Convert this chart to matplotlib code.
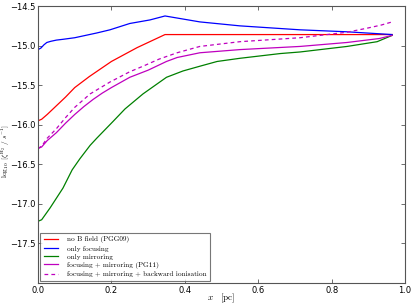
import matplotlib
matplotlib.use("Agg")
import matplotlib.pyplot as plt

plt.rcParams['mathtext.fontset'] = 'cm'

# --- data ---
x_red = [0.0, 0.01, 0.025, 0.05, 0.075, 0.1, 0.14, 0.2, 0.27, 0.346, 0.6, 0.965]
y_red = [-15.95, -15.93, -15.87, -15.76, -15.65, -15.53, -15.39, -15.2, -15.025, -14.86, -14.86, -14.86]

x_blue = [0.0, 0.008, 0.016, 0.024, 0.035, 0.05, 0.068, 0.1, 0.16, 0.196, 0.25, 0.305, 0.346,
          0.441, 0.55, 0.714, 0.842, 0.965]
y_blue = [-15.05, -15.03, -14.99, -14.96, -14.945, -14.93, -14.92, -14.9, -14.84, -14.8, -14.72,
          -14.675, -14.625, -14.7, -14.75, -14.8, -14.825, -14.86]

x_green = [0.0, 0.01, 0.033, 0.068, 0.093, 0.114, 0.142, 0.16, 0.204, 0.237, 0.286, 0.35, 0.395,
           0.441, 0.488, 0.55, 0.66, 0.714, 0.842, 0.924, 0.965]
y_green = [-17.22, -17.2, -17.05, -16.8, -16.57, -16.43, -16.26, -16.17, -15.96, -15.8, -15.61,
           -15.4, -15.32, -15.26, -15.2, -15.16, -15.1, -15.08, -15.01, -14.95, -14.87]

x_mag = [0.0, 0.01, 0.025, 0.05, 0.075, 0.1, 0.125, 0.15, 0.175, 0.2, 0.25, 0.3, 0.35, 0.379,
         0.441, 0.55, 0.714, 0.842, 0.93, 0.965]
y_mag = [-16.3, -16.28, -16.2, -16.1, -15.98, -15.87, -15.77, -15.68, -15.6, -15.53, -15.4,
         -15.31, -15.2, -15.15, -15.09, -15.05, -15.01, -14.96, -14.91, -14.87]

x_magd = [0.0, 0.01, 0.025, 0.05, 0.075, 0.1, 0.142, 0.196, 0.25, 0.286, 0.33, 0.379, 0.441,
          0.55, 0.714, 0.842, 0.896, 0.935, 0.965]
y_magd = [-16.3, -16.27, -16.17, -16.05, -15.91, -15.78, -15.61, -15.46, -15.33, -15.26, -15.17,
          -15.09, -15.01, -14.95, -14.9, -14.83, -14.78, -14.74, -14.7]

labels = ['no B field (PGG09)', 'only focusing', 'only mirroring',
          'focusing + mirroring (PG11)', 'focusing + mirroring + backward ionisation']
xticks = [0.0, 0.2, 0.4, 0.6, 0.8, 1.0]
yticks = [-17.5, -17.0, -16.5, -16.0, -15.5, -15.0, -14.5]

fig = plt.figure(figsize=(4.15, 3.04), dpi=100)
ax = fig.add_axes([0.0916, 0.069, 0.8844, 0.911])

lw = 0.9
ax.plot(x_red, y_red, color='red', lw=lw, label=labels[0])
ax.plot(x_blue, y_blue, color='blue', lw=lw, label=labels[1])
ax.plot(x_green, y_green, color='green', lw=lw, label=labels[2])
ax.plot(x_mag, y_mag, color='m', lw=lw, label=labels[3])
ax.plot(x_magd, y_magd, color='m', lw=lw, ls=(0, (3, 2.5)), label=labels[4])

ax.set_xlim(0.0, 1.0)
ax.set_ylim(-18.0, -14.5)
ax.set_xticks(xticks)
ax.set_yticks(yticks)
ax.set_xticklabels([f'{v:.1f}' for v in xticks])
ax.set_yticklabels([f'\u2212{abs(v):.1f}' for v in yticks])
ax.tick_params(direction='in', top=True, right=True, length=3, width=0.6,
               labelsize=6, colors='#555555', labelcolor='black', pad=2)
for s in ax.spines.values():
    s.set_color('#555555')
    s.set_linewidth(0.8)

ax.set_xlabel(r'$x\quad[\mathrm{pc}]$', fontsize=6.5)
ax.set_ylabel(r'$\log_{10}\ [\zeta^{\rm H_2}\ /\ s^{-1}]$', fontsize=5.3)
ax.xaxis.set_label_coords(0.5, -0.03)
ax.yaxis.set_label_coords(-0.070, 0.475)

leg = ax.legend(loc='lower left', prop={'family': 'cmr10', 'size': 5.2},
                frameon=True, fancybox=False, handlelength=2.0, handletextpad=1.2,
                borderpad=0.5, labelspacing=0.3, borderaxespad=0.3)
leg.get_frame().set_edgecolor('#555555')
leg.get_frame().set_linewidth(0.8)

fig.savefig('out.png', dpi=100)
